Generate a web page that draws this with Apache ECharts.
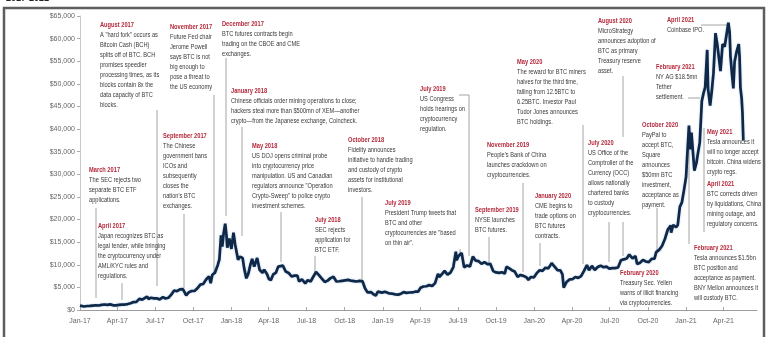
<!DOCTYPE html>
<html><head><meta charset="utf-8">
<script src="https://cdn.jsdelivr.net/npm/echarts@6/dist/echarts.min.js"></script>
<style>html,body{margin:0;padding:0;background:#fff}#c{width:769px;height:337px}</style>
</head><body><div id="c"></div>
<script>
// ---- data ----
const dates = [
'2017-01-01','2017-01-05','2017-01-11','2017-01-18','2017-01-25','2017-02-01','2017-02-08','2017-02-15','2017-02-22','2017-03-01','2017-03-08','2017-03-15','2017-03-22','2017-03-29','2017-04-05','2017-04-12','2017-04-19','2017-04-26','2017-05-03','2017-05-10','2017-05-17','2017-05-24','2017-05-31','2017-06-07','2017-06-12','2017-06-15','2017-06-21','2017-06-28','2017-07-05','2017-07-12','2017-07-16','2017-07-20','2017-07-26','2017-08-02','2017-08-09','2017-08-16','2017-08-23','2017-08-30','2017-09-02','2017-09-06','2017-09-14','2017-09-20','2017-09-27','2017-10-04','2017-10-11','2017-10-18','2017-10-25','2017-11-01','2017-11-08','2017-11-12','2017-11-16','2017-11-22','2017-11-29','2017-12-03','2017-12-07','2017-12-10','2017-12-13','2017-12-17','2017-12-20','2017-12-22','2017-12-27',
'2018-01-01','2018-01-06','2018-01-10','2018-01-13','2018-01-17','2018-01-21','2018-01-28','2018-02-01','2018-02-06','2018-02-11','2018-02-16','2018-02-20','2018-02-25','2018-03-04','2018-03-10','2018-03-17','2018-03-21','2018-03-28','2018-04-01','2018-04-06','2018-04-12','2018-04-18','2018-04-24','2018-05-05','2018-05-12','2018-05-19','2018-05-26','2018-06-02','2018-06-09','2018-06-13','2018-06-20','2018-06-28','2018-07-04','2018-07-11','2018-07-17','2018-07-24','2018-07-31','2018-08-07','2018-08-14','2018-08-21','2018-08-28','2018-09-04','2018-09-11','2018-09-18','2018-09-25','2018-10-02','2018-10-09','2018-10-16','2018-10-23','2018-10-30','2018-11-06','2018-11-13','2018-11-19','2018-11-25','2018-11-28','2018-12-04','2018-12-10','2018-12-15','2018-12-20','2018-12-24','2018-12-30',
'2019-01-06','2019-01-10','2019-01-17','2019-01-24','2019-01-31','2019-02-07','2019-02-14','2019-02-20','2019-02-27','2019-03-06','2019-03-13','2019-03-20','2019-03-27','2019-04-02','2019-04-09','2019-04-16','2019-04-23','2019-04-30','2019-05-07','2019-05-14','2019-05-17','2019-05-24','2019-05-30','2019-06-06','2019-06-13','2019-06-20','2019-06-26','2019-06-28','2019-07-03','2019-07-10','2019-07-16','2019-07-23','2019-07-30','2019-08-06','2019-08-13','2019-08-20','2019-08-27','2019-09-03','2019-09-10','2019-09-17','2019-09-24','2019-10-01','2019-10-08','2019-10-15','2019-10-22','2019-10-26','2019-11-01','2019-11-08','2019-11-15','2019-11-22','2019-11-29','2019-12-06','2019-12-13','2019-12-18','2019-12-24','2019-12-31',
'2020-01-07','2020-01-14','2020-01-21','2020-01-28','2020-02-04','2020-02-12','2020-02-19','2020-02-26','2020-03-04','2020-03-09','2020-03-12','2020-03-16','2020-03-19','2020-03-26','2020-04-02','2020-04-09','2020-04-16','2020-04-23','2020-04-30','2020-05-07','2020-05-12','2020-05-19','2020-05-26','2020-06-02','2020-06-09','2020-06-16','2020-06-23','2020-06-30','2020-07-07','2020-07-14','2020-07-21','2020-07-28','2020-08-04','2020-08-11','2020-08-17','2020-08-25','2020-09-01','2020-09-05','2020-09-12','2020-09-19','2020-09-26','2020-10-03','2020-10-10','2020-10-17','2020-10-21','2020-10-28','2020-11-04','2020-11-11','2020-11-18','2020-11-25','2020-11-26','2020-12-01','2020-12-08','2020-12-12','2020-12-17','2020-12-22','2020-12-27',
'2021-01-01','2021-01-03','2021-01-08','2021-01-11','2021-01-14','2021-01-21','2021-01-26','2021-01-29','2021-02-03','2021-02-08','2021-02-12','2021-02-16','2021-02-21','2021-02-23','2021-02-28','2021-03-04','2021-03-08','2021-03-13','2021-03-17','2021-03-25','2021-03-30','2021-04-04','2021-04-08','2021-04-13','2021-04-16','2021-04-18','2021-04-22','2021-04-25','2021-04-28','2021-05-03','2021-05-08','2021-05-10','2021-05-12','2021-05-15','2021-05-17','2021-05-19'
];
const prices = [
970,1120,780,880,900,980,1050,1000,1120,1220,1150,1250,1040,1040,1130,1200,1210,1310,1490,1750,1790,2450,2300,2700,2950,2450,2700,2580,2600,2330,1930,2860,2550,2700,3400,4300,4150,4580,4900,4600,3250,3900,4200,4220,4800,5600,5750,6750,7450,5900,7800,8200,9900,11200,16500,14000,16800,19100,16600,13800,15800,
13500,17100,14500,14100,11100,11800,11500,9100,7000,8100,10100,11300,9600,11500,8900,8200,8900,7900,6900,6600,7900,8200,9600,9800,8500,8200,7400,7600,7600,6300,6750,5900,6600,6300,7300,8400,7700,6950,6200,6500,7050,7350,6300,6350,6450,6550,6650,6500,6400,6300,6450,6350,4800,3900,4300,3950,3450,3200,4050,4050,3850,
4050,3630,3650,3600,3450,3400,3600,3950,3800,3870,3880,4050,4050,4900,5200,5250,5500,5300,5950,8000,7300,8000,8650,7800,8250,9500,12900,11000,12000,12600,9450,9850,9600,11800,10900,10800,10200,10600,10150,10200,8600,8300,8200,8350,8050,9550,9250,8800,8500,7300,7750,7550,7250,6650,7300,7200,
8150,8800,8650,9350,9200,10350,9600,8800,8750,7900,4950,5050,6200,6750,6800,7300,7100,7500,8650,9950,8800,9750,8850,9500,9800,9450,9600,9150,9250,9250,9400,11000,11200,11400,12250,11400,11950,10150,10450,11080,10730,10600,11300,11350,12800,13300,14150,15700,17800,18700,17100,18800,18300,18800,22800,23800,26500,
29400,32800,40800,35500,39200,30800,32500,34300,37000,46200,47900,49200,57500,48900,45200,48400,52300,61200,58900,52800,58800,58200,58000,63500,61400,56200,51800,49000,54900,57200,58800,55900,49200,46800,43500,37500
];
const tickLabels = ['Jan-17','Apr-17','Jul-17','Oct-17','Jan-18','Apr-18','Jul-18','Oct-18','Jan-19','Apr-19','Jul-19','Oct-19','Jan-20','Apr-20','Jul-20','Oct-20','Jan-21','Apr-21'];

// ---- annotations (text as in the reference) ----
const notes = [
 {x:100,y:25,h:'August 2017',t:['A "hard fork" occurs as','Bitcoin Cash (BCH)','splits off of BTC. BCH','promises speedier','processing times, as its','blocks contain 8x the','data capacity of BTC','blocks.']},
 {x:170,y:27,h:'November 2017',t:['Future Fed chair','Jerome Powell','says BTC is not','big enough to','pose a threat to','the US economy']},
 {x:222,y:24,h:'December 2017',t:['BTC futures contracts begin','trading on the CBOE and CME','exchanges.']},
 {x:163,y:136,h:'September 2017',t:['The Chinese','government bans','ICOs and','subsequently','closes the',"nation's BTC",'exchanges.']},
 {x:89,y:170,h:'March 2017',t:['The SEC rejects two','separate BTC ETF','applications.']},
 {x:98,y:226,h:'April 2017',t:['Japan recognizes BTC as','legal tender, while bringing','the cryptocurrency under','AML/KYC rules and','regulations.']},
 {x:231,y:91,h:'January 2018',t:['Chinese officials order mining operations to close;','hackers steal more than $500mn of XEM\u2014another','crypto\u2014from the Japanese exchange, Coincheck.']},
 {x:252,y:146,h:'May 2018',t:['US DOJ opens criminal probe','into cryptocurrency price','manipulation. US and Canadian','regulators announce "Operation','Crypto-Sweep" to police crypto','investment schemes.']},
 {x:348,y:140,h:'October 2018',t:['Fidelity announces','initiative to handle trading','and custody of crypto','assets for institutional','investors.']},
 {x:315,y:220,h:'July 2018',t:['SEC rejects','application for','BTC ETF.']},
 {x:385,y:203,h:'July 2019',t:['President Trump tweets that','BTC and other','cryptocurrencies are "based','on thin air".']},
 {x:420,y:89,h:'July 2019',t:['US Congress','holds hearings on','cryptocurrency','regulation.']},
 {x:487,y:145,h:'November 2019',t:["People's Bank of China",'launches crackdown on','cryptocurrencies.']},
 {x:475,y:210,h:'September 2019',t:['NYSE launches','BTC futures.']},
 {x:535,y:196,h:'January 2020',t:['CME begins to','trade options on','BTC futures','contracts.']},
 {x:517,y:62,h:'May 2020',t:['The reward for BTC miners','halves for the third time,','falling from 12.5BTC to','6.25BTC. Investor Paul','Tudor Jones announces','BTC holdings.']},
 {x:598,y:21,h:'August 2020',t:['MicroStrategy','announces adoption of','BTC as primary','Treasury reserve','asset.']},
 {x:588,y:143,h:'July 2020',t:['US Office of the','Comptroller of the','Currency (OCC)','allows nationally','chartered banks','to custody','cryptocurrencies.']},
 {x:642,y:125,h:'October 2020',t:['PayPal to','accept BTC,','Square','announces','$50mn BTC','investment,','acceptance as','payment.']},
 {x:620,y:273,h:'February 2020',t:['Treasury Sec. Yellen','warns of illicit financing','via cryptocurrencies.']},
 {x:656,y:67,h:'February 2021',t:['NY AG $18.5mn','Tether','settlement.']},
 {x:667,y:20,h:'April 2021',t:['Coinbase IPO.']},
 {x:707,y:132,h:'May 2021',t:['Tesla announces it','will no longer accept','bitcoin. China widens','crypto regs.']},
 {x:707,y:184,h:'April 2021',t:['BTC corrects driven','by liquidations, China','mining outage, and','regulatory concerns.']},
 {x:694,y:248,h:'February 2021',t:['Tesla announces $1.5bn','BTC position and','acceptance as payment.','BNY Mellon announces it','will custody BTC.']}
];
const leaders = [
 [96,208,96,298],[122,283,122,300],[157,110,157,286],[184,214,184,288],[214,95,214,274],
 [226,58,226,216],[242,127,242,236],[281,212,281,262],[315,256,315,272],[362,197,362,281],
 [460,249,460,256],[459,95,469,95],[469,95,469,256],[489,237,489,262],[523,183,523,272],
 [540,243,540,266],[583,125,583,264],[609,222,609,262],[623,76,623,137],[623,222,623,256],
 [657,208,657,250],[688,98,700,98],[701,25,728,25],[704,128,704,232],[689,150,689,244]
];

const toTs = s => { const p = s.split('-').map(Number); return new Date(p[0], p[1]-1, p[2]).getTime(); };
const monthIdx = {Jan:0,Apr:3,Jul:6,Oct:9};
const tickValues = tickLabels.map(s => { const [mm,yy] = s.split('-'); return new Date(2000 + Number(yy), monthIdx[mm], 1).getTime(); });
const labelFor = v => { let best = 0, bd = Infinity; tickValues.forEach((t,i)=>{ const d = Math.abs(t - v); if (d < bd) { bd = d; best = i; } }); return tickLabels[best]; };
const series = dates.map((d,i)=>[toTs(d), prices[i]]);

const FONT = '"Liberation Sans", Arial, sans-serif';
const SX = 0.76;
const graphics = [];
graphics.push({type:'rect', silent:true, z:0, shape:{x:4,y:8,width:760,height:340}, style:{fill:'none',stroke:'#5e5e5e',lineWidth:2.5}});
graphics.push({type:'text', x:6, y:-6, style:{text:'2017-2021', fill:'#222', font:'bold 9px '+FONT}});
leaders.forEach(l=>graphics.push({type:'line', silent:true, shape:{x1:l[0],y1:l[1],x2:l[2],y2:l[3]}, style:{stroke:'#9a9a9a',lineWidth:0.9}}));
notes.forEach(n=>{
  graphics.push({type:'text', x:n.x, y:n.y-5, scaleX:SX, style:{text:n.h, fill:'#b3283a', fontSize:7.5, fontWeight:'bold', fontFamily:FONT, verticalAlign:'top', lineHeight:10}});
  graphics.push({type:'text', x:n.x, y:n.y+5, scaleX:SX, style:{text:n.t.join('\n'), fill:'#3a3a3a', fontSize:7.5, fontFamily:FONT, verticalAlign:'top', lineHeight:10}});
});

const chart = echarts.init(document.getElementById('c'), null, {renderer:'canvas'});
chart.setOption({
  animation:false,
  backgroundColor:'#fff',
  grid:{left:80, right:12, top:16, bottom:27},
  xAxis:{type:'value', min:new Date(2017,0,1).getTime(), max:new Date(2021,5,21).getTime(),
    axisLine:{lineStyle:{color:'#9c9c9c',width:1}},
    axisTick:{show:true, inside:true, length:3, lineStyle:{color:'#aaa'}, customValues:tickValues},
    axisLabel:{customValues:tickValues, formatter:v=>labelFor(v), color:'#666', fontSize:7, fontFamily:FONT, margin:8},
    splitLine:{show:false}},
  yAxis:{type:'value', min:0, max:65000, interval:5000,
    axisLine:{show:true, lineStyle:{color:'#c8c8c8'}},
    axisTick:{show:true, length:3, lineStyle:{color:'#aaa'}},
    axisLabel:{formatter:v=>'$'+v.toLocaleString('en-US'), color:'#666', fontSize:7, fontFamily:FONT, margin:5},
    splitLine:{show:false}},
  series:[{type:'line', data:series, showSymbol:false, smooth:false,
    lineStyle:{color:'#0f2848', width:2.7, shadowColor:'rgba(70,130,200,0.45)', shadowBlur:2}, z:3}],
  graphic:graphics
});
</script></body></html>
